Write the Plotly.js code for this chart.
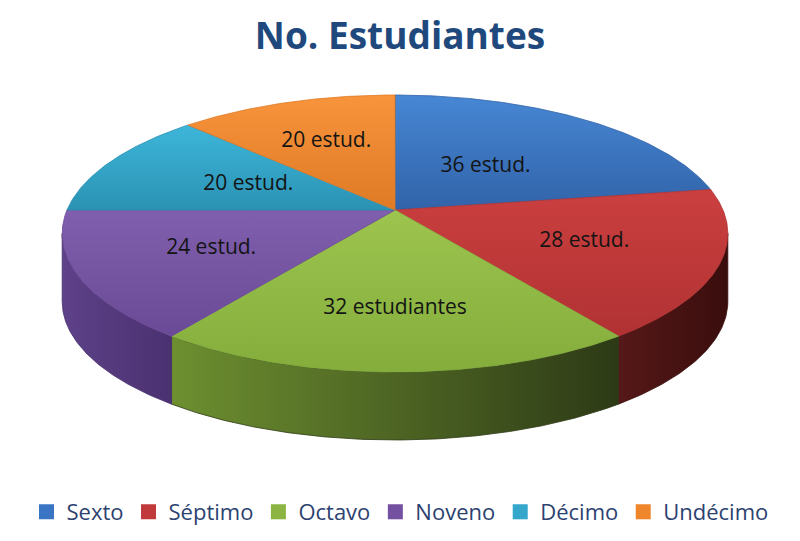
<!DOCTYPE html>
<html><head><meta charset="utf-8">
<script src="https://cdn.plot.ly/plotly-3.0.1.min.js"></script>
<style>html,body{margin:0;padding:0;background:#fff}#chart{width:800px;height:541px}</style>
</head><body><div id="chart"></div>
<script>
// ---- data ----
const categories = ['Sexto', 'Séptimo', 'Octavo', 'Noveno', 'Décimo', 'Undécimo'];
const students = [36, 28, 32, 24, 20, 20];
const sliceLabels = ['36 estud.', '28 estud.', '32 estudiantes', '24 estud.', '20 estud.', '20 estud.'];
const chartTitle = 'No. Estudiantes';

// ---- styles ----
const FONT = '"Open Sans", Lato, sans-serif';
const topColors = [['#4787D4', '#3163A9'], ['#CB3F3F', '#B13233'], ['#9CC44E', '#84AD3C'],
                   ['#8060AE', '#6A4A96'], ['#3DB6DA', '#2B92B3'], ['#F8943C', '#DF7A25']];
const sideColors = [null, ['#561818', '#3A0D0D'], ['#6D8F30', '#2D3A16'],
                    ['#5E4189', '#4A3170'], null, null];
const legendColors = ['#3A75C4', '#C0393B', '#8CB443', '#7451A0', '#34A7CB', '#F0862C'];

// ---- geometry of the perspective pie (layout, not data) ----
const CX = 395, CY = 210, A = 328, B = 134.5, K = 0.1697, DEPTH = 68;
const labelR = [0.45, 0.6, 0.65, 0.6, 0.5, 0.6];

function project(theta, r) {
  const u = r * Math.sin(theta), w = r * Math.cos(theta);
  const d = 1 + K * w;
  return [CX + A * u / d, CY - B * w / d];
}
function arc(t0, t1) {
  const n = Math.max(2, Math.ceil((t1 - t0) / (Math.PI / 360)));
  const xs = [], ys = [];
  for (let j = 0; j <= n; j++) {
    const p = project(t0 + (t1 - t0) * j / n, 1);
    xs.push(p[0]); ys.push(p[1]);
  }
  return [xs, ys];
}

const total = students.reduce((a, b) => a + b, 0);
const frontMin = Math.acos(-K), frontMax = 2 * Math.PI - Math.acos(-K);
const sideTraces = [], topTraces = [];
const lx = [], ly = [];
let cum = 0;
students.forEach((v, i) => {
  const t0 = 2 * Math.PI * cum / total;
  cum += v;
  const t1 = 2 * Math.PI * cum / total;
  // top face (lighter toward the back, darker toward the front)
  const [ax, ay] = arc(t0, t1);
  topTraces.push({
    type: 'scatter', mode: 'lines', fill: 'toself',
    x: [CX].concat(ax, [CX]), y: [CY].concat(ay, [CY]),
    line: {width: 0.8, color: topColors[i][1]},
    fillcolor: topColors[i][0],
    fillgradient: {type: 'vertical', colorscale: [[0, topColors[i][1]], [1, topColors[i][0]]]},
    showlegend: false, hoverinfo: 'skip', name: categories[i]
  });
  // visible side wall
  const sa = Math.max(t0, frontMin), sb = Math.min(t1, frontMax);
  if (sa < sb && sideColors[i]) {
    const [sx, sy] = arc(sa, sb);
    const bx = sx.slice().reverse(), by = sy.slice().reverse().map(y => y + DEPTH);
    sideTraces.push({
      type: 'scatter', mode: 'lines', fill: 'toself',
      x: sx.concat(bx, [sx[0]]), y: sy.concat(by, [sy[0]]),
      line: {width: 0.8, color: sideColors[i][1]},
      fillcolor: sideColors[i][0],
      fillgradient: {type: 'horizontal', colorscale: [[0, sideColors[i][0]], [1, sideColors[i][1]]]},
      showlegend: false, hoverinfo: 'skip', name: categories[i]
    });
  }
  const p = project((t0 + t1) / 2, labelR[i]);
  lx.push(p[0]); ly.push(p[1]);
});

const labelTrace = {
  type: 'scatter', mode: 'text', x: lx, y: ly, text: sliceLabels,
  textposition: 'middle center',
  textfont: {family: FONT, size: 21, color: '#141414'},
  showlegend: false, hoverinfo: 'skip'
};

const legendTraces = categories.map((c, i) => ({
  type: 'scatter', mode: 'markers', x: [null], y: [null], name: c,
  marker: {symbol: 'square', size: 15, color: legendColors[i]},
  showlegend: true, hoverinfo: 'skip'
}));

const layout = {
  width: 800, height: 541,
  margin: {l: 0, r: 0, t: 0, b: 0},
  paper_bgcolor: '#ffffff', plot_bgcolor: '#ffffff',
  title: {
    text: '<b>' + chartTitle + '</b>',
    x: 0.5, xanchor: 'center', y: 1 - 36 / 541, yanchor: 'middle',
    font: {family: FONT, size: 37, color: '#1F497D'}
  },
  xaxis: {range: [0, 800], visible: false, fixedrange: true},
  yaxis: {range: [541, 0], visible: false, fixedrange: true},
  showlegend: true,
  legend: {
    orientation: 'h', x: 0.5, xanchor: 'center', y: 1 - 512 / 541, yanchor: 'middle',
    font: {family: FONT, size: 22, color: '#2C4270'},
    bgcolor: 'rgba(0,0,0,0)', traceorder: 'normal', itemclick: false
  }
};

Plotly.newPlot('chart', sideTraces.concat(topTraces, [labelTrace], legendTraces), layout,
  {displayModeBar: false, staticPlot: true});
</script>
</body></html>
